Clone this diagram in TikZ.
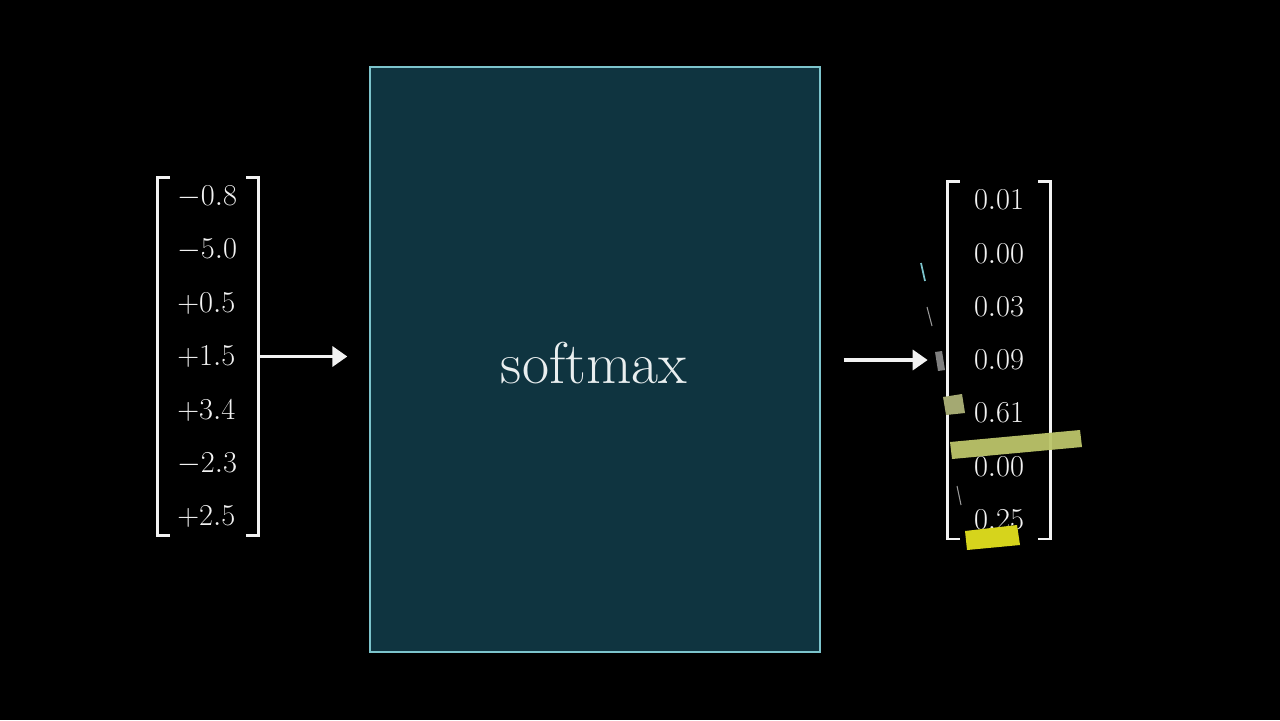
\documentclass[tikz,border=0pt]{standalone}
\usepackage{amsmath}
\usepackage{xcolor}
\usetikzlibrary{arrows.meta, calc, positioning}

\definecolor{boxfill}{HTML}{0F3440}
\definecolor{boxline}{HTML}{7CC4CC}
\definecolor{pale}{HTML}{F2F2F2}
\definecolor{barolive}{HTML}{BCC56A}
\definecolor{baryellow}{HTML}{D6D41C}

\begin{document}
\begin{tikzpicture}[x=0.02cm, y=-0.02cm,
  num/.style={text=pale, inner sep=0pt, font=\fontsize{16.5}{20}\selectfont},
  brk/.style={pale, line width=1.5pt},
  arr/.style={pale, line width=2pt, -{Triangle[length=0.3cm, width=0.4cm]}},
  vec/.style={minimum height=7.14cm, inner sep=0pt}]
\fill[black] (0,0) rectangle (1280,720);

\node[draw=boxline, fill=boxfill, line width=0.8pt, minimum width=9cm, minimum height=11.7cm]
  (box) at (595,359.5) {};
\node[text=pale!92!boxline, font=\fontsize{33.5}{38}\selectfont] (sm) at (594,363) {softmax};

\node[vec, minimum width=2cm] (lvec) at (208,356.5) {};
\node[vec, minimum width=2.04cm] (rvec) at (999,360) {};
\foreach \v [count=\i from 0] in {-0.8,-5.0,+0.5,+1.5,+3.4,-2.3,+2.5}
  \node[num, anchor=west] (in\i) at (177,197+53.3*\i) {$\v$};
\foreach \v [count=\i from 0] in {0.01,0.00,0.03,0.09,0.61,0.00,0.25}
  \node[num] (out\i) at (999,200+53.3*\i) {$\v$};

\draw[brk] ([xshift=0.24cm]lvec.north west) -- (lvec.north west) -- (lvec.south west) -- ++(0.24cm,0);
\draw[brk] ([xshift=-0.24cm]lvec.north east) -- (lvec.north east) -- (lvec.south east) -- ++(-0.24cm,0);
\draw[brk] ([xshift=0.24cm]rvec.north west) -- (rvec.north west) -- (rvec.south west) -- ++(0.24cm,0);
\draw[brk] ([xshift=-0.24cm]rvec.north east) -- (rvec.north east) -- (rvec.south east) -- ++(-0.24cm,0);

\draw[arr, shorten >=0.44cm] (lvec.east) -- (lvec.east -| box.west);
\draw[arr, shorten <=0.46cm, shorten >=0.4cm] (rvec.west -| box.east) -- (rvec.west);

\fill[barolive, opacity=0.95] (950,442) -- (1080,430) -- (1082,447) -- (952,459) -- cycle;
\fill[baryellow] (965,531) -- (1017,525) -- (1020,545) -- (967,550) -- cycle;
\fill[barolive!60!gray] (943,397) -- (962,394) -- (965,413) -- (946,415) -- cycle;
\fill[gray] (935,352) -- (942,351) -- (945,370) -- (938,371) -- cycle;
\draw[boxline, line width=1pt] (921,263) -- (925,281);
\draw[gray!80, line width=0.6pt] (927,307) -- (932,326);
\draw[gray!80, line width=0.6pt] (957,486) -- (961,505);
\end{tikzpicture}
\end{document}
